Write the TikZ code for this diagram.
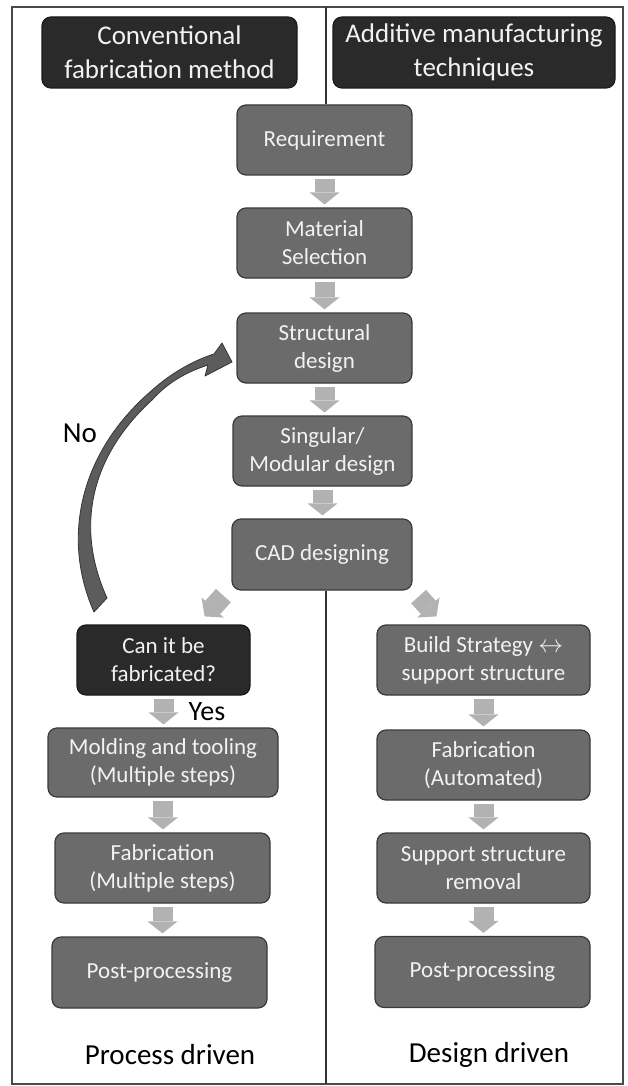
\documentclass[tikz,border=0pt]{standalone}
\usepackage{fontspec}
\setmainfont{Carlito}
\usetikzlibrary{arrows.meta,calc}
\definecolor{boxfill}{HTML}{6B6B6B}
\definecolor{boxline}{HTML}{3A3A3A}
\definecolor{hdrfill}{HTML}{2A2A2A}
\definecolor{hdrline}{HTML}{1A1A1A}
\definecolor{boxtext}{HTML}{F2F2F2}
\definecolor{arrgray}{HTML}{B2B2B2}
\definecolor{curvefill}{HTML}{5C5C5C}
\definecolor{curveline}{HTML}{363636}
\definecolor{framecol}{HTML}{4A4A4A}
\tikzset{
  box/.style={rounded corners=9pt, fill=boxfill, draw=boxline, line width=1.2pt,
    text=boxtext, align=center, inner sep=0pt, minimum height=70pt,
    font=\fontsize{23}{28}\selectfont},
  darkbox/.style={box, fill=hdrfill, draw=hdrline},
  hdr/.style={darkbox, minimum height=71pt, font=\fontsize{27}{34}\selectfont},
  blk/.style={draw=arrgray, line width=20pt, shorten <=3pt, shorten >=3pt,
    -{Triangle[width=30pt,length=12pt,line width=0pt]}},
  lbl/.style={inner sep=0pt, text=black},
  frame/.style={draw=framecol, line width=1.6pt},
  divider/.style={draw=black!80, line width=2pt}
}
\begin{document}
\begin{tikzpicture}[x=1pt,y=-1pt]
\useasboundingbox (0,0) rectangle (627,1086);
\fill[white] (0,0) rectangle (627,1086);
% frame
\draw[frame] (12,7) rectangle (623,1084);
% headers
\node[hdr, minimum width=255pt] (hL) at (169.5,52.5) {Conventional\\fabrication method};
\node[hdr, minimum width=282pt] (hR) at (474,52.5) {Additive manufacturing\\techniques};
% central column
\node[box, minimum width=175pt] (req) at (324.5,140) {Requirement};
\node[box, minimum width=175pt] (mat) at (324.5,243) {Material\\Selection};
\node[box, minimum width=175pt] (str) at (324.5,348) {Structural\\design};
\node[box, minimum width=179pt] (sing) at (322.5,451) {Singular/\\Modular design};
\node[box, minimum width=180pt, minimum height=71pt] (cad) at (322,554.5) {CAD designing};
% left column
\node[darkbox, minimum width=173pt] (can) at (163.5,660) {Can it be\\fabricated?};
\node[box, minimum width=230pt, minimum height=69pt] (mold) at (163,762.5) {Molding and tooling\\(Multiple steps)};
\node[box, minimum width=215pt] (fabL) at (162.5,868) {Fabrication\\(Multiple steps)};
\node[box, minimum width=215pt, minimum height=71pt] (postL) at (159.5,972.5) {Post-processing};
% right column
\node[box, minimum width=213pt] (build) at (483.5,660) {Build Strategy $\leftrightarrow$\\support structure};
\node[box, minimum width=213pt] (fabR) at (483.5,765) {Fabrication\\(Automated)};
\node[box, minimum width=213pt] (supp) at (483.5,868) {Support structure\\removal};
\node[box, minimum width=215pt, minimum height=71pt] (postR) at (482.5,972) {Post-processing};
% divider
\coordinate (dt) at (326,7);
\coordinate (db) at (326,1084);
\draw[divider] (dt) -- (dt |- req.north);
\draw[divider] (db |- cad.south) -- (db);
% block arrows
\draw[blk] (req.south) -- (req.south |- mat.north);
\draw[blk] (mat.south) -- (mat.south |- str.north);
\draw[blk] (str.south) -- (str.south |- sing.north);
\draw[blk] (sing.south) -- (sing.south |- cad.north);
\draw[blk, shorten <=0pt, shorten >=0pt] ($(cad.south west)+(-8,5)$) -- ($(can.north east)+(-46,-8)$);
\draw[blk, shorten <=0pt, shorten >=0pt] ($(cad.south east)+(6,6)$) -- ($(build.north west)+(60,-8)$);
\draw[blk] (can.south) -- (can.south |- mold.north);
\draw[blk] (mold.south) -- (mold.south |- fabL.north);
\draw[blk] (fabL.south) -- (fabL.south |- postL.north);
\draw[blk] (build.south) -- (build.south |- fabR.north);
\draw[blk] (fabR.south) -- (fabR.south |- supp.north);
\draw[blk] (supp.south) -- (supp.south |- postR.north);
% curved "No" arrow
\filldraw[fill=curvefill, draw=curveline, line width=0.8pt, line join=round]
  (94,612) .. controls (62,540) and (78,455) .. (150,392)
  .. controls (172,372) and (195,360) .. (214,354)
  -- (222,343) -- (232,362) -- (205,376) -- (208,365)
  .. controls (190,371) and (170,380) .. (152,400)
  .. controls (92,455) and (74,525) .. (107,598)
  -- cycle;
% labels
\node[lbl, font=\fontsize{29}{34}\selectfont] (no) at (80,433) {No};
\node[lbl, font=\fontsize{28}{34}\selectfont] (yes) at (207,712) {Yes};
\node[lbl, font=\fontsize{29}{34}\selectfont] (pd) at (170,1055) {Process driven};
\node[lbl, font=\fontsize{29}{34}\selectfont] (dd) at (489,1055) {Design driven};
\end{tikzpicture}
\end{document}
